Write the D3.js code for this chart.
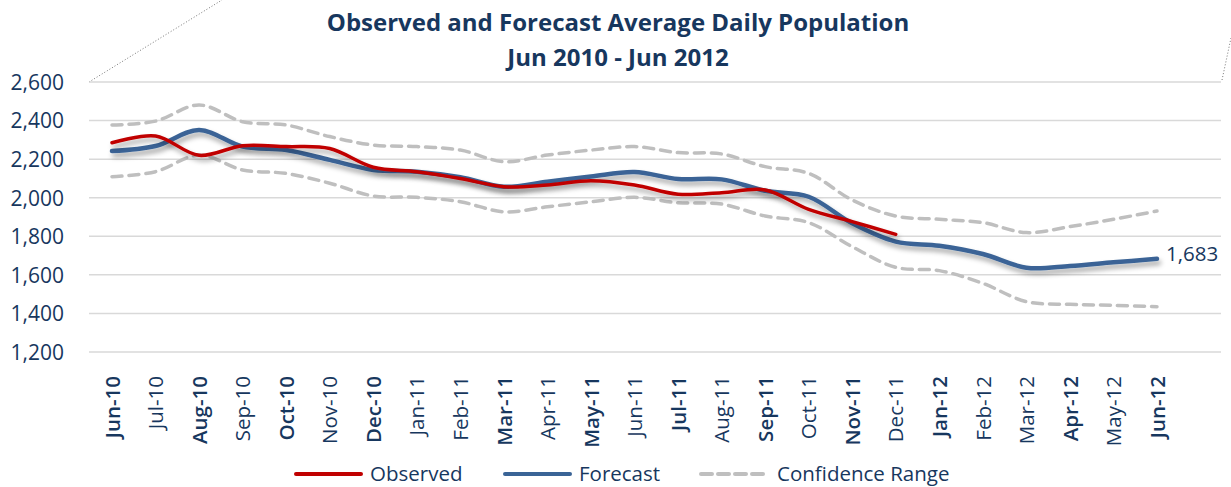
<!DOCTYPE html>
<html>
<head>
<meta charset="utf-8">
<script src="https://cdnjs.cloudflare.com/ajax/libs/d3/7.8.5/d3.min.js"></script>
<style>
  body { margin: 0; background: #fff; }
  svg { display: block; }
  svg text { font-family: "Open Sans", "Noto Sans", sans-serif; }
</style>
</head>
<body>
<div id="chart"></div>
<script>
var svgWidth = 1231;
var svgHeight = 487;

// Data
var months = ["Jun-10","Jul-10","Aug-10","Sep-10","Oct-10","Nov-10","Dec-10","Jan-11","Feb-11",
  "Mar-11","Apr-11","May-11","Jun-11","Jul-11","Aug-11","Sep-11","Oct-11","Nov-11","Dec-11",
  "Jan-12","Feb-12","Mar-12","Apr-12","May-12","Jun-12"];
var observed = [2285, 2320, 2220, 2270, 2265, 2255, 2158, 2135, 2100, 2057, 2066, 2088, 2066,
  2018, 2026, 2040, 1940, 1876, 1810];
var forecast = [2242, 2268, 2351, 2265, 2247, 2196, 2144, 2135, 2106, 2057, 2083, 2110, 2133,
  2097, 2095, 2036, 2005, 1867, 1772, 1751, 1708, 1637, 1646, 1665, 1683];
var upper = [2377, 2397, 2481, 2394, 2377, 2317, 2273, 2265, 2247, 2187, 2221, 2247, 2265,
  2234, 2227, 2161, 2126, 1988, 1905, 1888, 1871, 1819, 1850, 1888, 1931];
var lower = [2109, 2135, 2221, 2144, 2126, 2075, 2009, 2002, 1979, 1927, 1953, 1979, 2002,
  1974, 1967, 1905, 1871, 1746, 1639, 1622, 1556, 1461, 1447, 1442, 1435];
var yTicks = [1200, 1400, 1600, 1800, 2000, 2200, 2400, 2600];
var boldMonths = ["Jun-10","Aug-10","Oct-10","Dec-10","Mar-11","May-11","Jul-11","Sep-11",
  "Nov-11","Jan-12","Apr-12","Jun-12"];

var textColor = "#17375e";

var svg = d3.select("#chart").append("svg")
  .attr("width", svgWidth)
  .attr("height", svgHeight);

var defs = svg.append("defs");
var shadow = defs.append("filter").attr("id", "shadow")
  .attr("x", "-5%").attr("y", "-30%").attr("width", "110%").attr("height", "160%");
shadow.append("feDropShadow")
  .attr("dx", 2).attr("dy", 4).attr("stdDeviation", 2.5)
  .attr("flood-color", "#000").attr("flood-opacity", 0.35);

var x = d3.scalePoint()
  .domain(months)
  .range([112, 1157]);

var y = d3.scaleLinear()
  .domain([1200, 2600])
  .range([352, 82]);

// decorative dotted edges of the plot area
svg.append("line")
  .attr("x1", 89).attr("y1", 82).attr("x2", 222).attr("y2", 0)
  .attr("stroke", "#777").attr("stroke-width", 1).attr("stroke-dasharray", "1,2");
svg.append("line")
  .attr("x1", 1222).attr("y1", 80).attr("x2", 1231).attr("y2", 38)
  .attr("stroke", "#777").attr("stroke-width", 1).attr("stroke-dasharray", "1,2");

// gridlines
svg.append("g").selectAll("line")
  .data(yTicks)
  .enter().append("line")
  .attr("x1", 89).attr("x2", 1221)
  .attr("y1", d => y(d)).attr("y2", d => y(d))
  .attr("stroke", "#d9d9d9").attr("stroke-width", 1.5);

// y axis labels
var leftAxis = d3.axisLeft(y).tickValues(yTicks).tickSize(0).tickPadding(0)
  .tickFormat(d3.format(","));
var yAxisG = svg.append("g")
  .attr("transform", "translate(64,0)")
  .call(leftAxis);
yAxisG.select(".domain").remove();
yAxisG.selectAll("text")
  .attr("fill", textColor)
  .style("font-size", "21px")
  .attr("dy", "0.35em");

// x axis labels
var bottomAxis = d3.axisBottom(x).tickSize(0).tickPadding(0);
var xAxisG = svg.append("g")
  .attr("transform", "translate(0,376)")
  .call(bottomAxis);
xAxisG.select(".domain").remove();
xAxisG.selectAll("text")
  .attr("fill", textColor)
  .style("font-size", "20.5px")
  .style("font-weight", d => boldMonths.indexOf(d) >= 0 ? "600" : "400")
  .attr("text-anchor", "end")
  .attr("transform", "rotate(-90)")
  .attr("x", 0).attr("y", 0)
  .attr("dx", 0).attr("dy", "0.35em");

// lines
var line = d3.line()
  .x((d, i) => x(months[i]))
  .y(d => y(d))
  .curve(d3.curveCatmullRom.alpha(0.5));

svg.append("path").datum(upper)
  .attr("d", line).attr("fill", "none")
  .attr("stroke", "#bfbfbf").attr("stroke-width", 3.5)
  .attr("stroke-dasharray", "10,7").attr("stroke-linecap", "round");
svg.append("path").datum(lower)
  .attr("d", line).attr("fill", "none")
  .attr("stroke", "#bfbfbf").attr("stroke-width", 3.5)
  .attr("stroke-dasharray", "10,7").attr("stroke-linecap", "round");

svg.append("path").datum(forecast)
  .attr("d", line).attr("fill", "none")
  .attr("stroke", "#3a6496").attr("stroke-width", 4.5)
  .attr("stroke-linecap", "round")
  .attr("filter", "url(#shadow)");

svg.append("path").datum(observed)
  .attr("d", line).attr("fill", "none")
  .attr("stroke", "#c00000").attr("stroke-width", 3.5)
  .attr("stroke-linecap", "round")
  .attr("filter", "url(#shadow)");

// end label
var last = forecast.length - 1;
svg.append("text")
  .attr("x", x(months[last]) + 9)
  .attr("y", y(forecast[last]) + 2)
  .attr("fill", textColor)
  .style("font-size", "20.5px")
  .text(d3.format(",")(forecast[last]));

// title
var title = svg.append("text")
  .attr("text-anchor", "middle")
  .attr("fill", textColor)
  .style("font-size", "24px")
  .style("font-weight", "bold");
title.append("tspan").attr("x", 618).attr("y", 31)
  .text("Observed and Forecast Average Daily Population");
title.append("tspan").attr("x", 618).attr("y", 66)
  .text("Jun 2010 - Jun 2012");

// legend
var legendItems = [
  {label: "Observed", color: "#c00000", dash: null, x: 294},
  {label: "Forecast", color: "#3a6496", dash: null, x: 503},
  {label: "Confidence Range", color: "#bfbfbf", dash: "11,6", x: 699}
];
var legend = svg.append("g");
legendItems.forEach(function(item) {
  legend.append("line")
    .attr("x1", item.x + 2).attr("x2", item.x + 67)
    .attr("y1", 474).attr("y2", 474)
    .attr("stroke", item.color).attr("stroke-width", 4)
    .attr("stroke-linecap", "round")
    .attr("stroke-dasharray", item.dash);
  legend.append("text")
    .attr("x", item.x + (item.dash ? 78 : 76)).attr("y", 474)
    .attr("dy", "0.35em")
    .attr("fill", textColor)
    .style("font-size", "20.5px")
    .text(item.label);
});
</script>
</body>
</html>
